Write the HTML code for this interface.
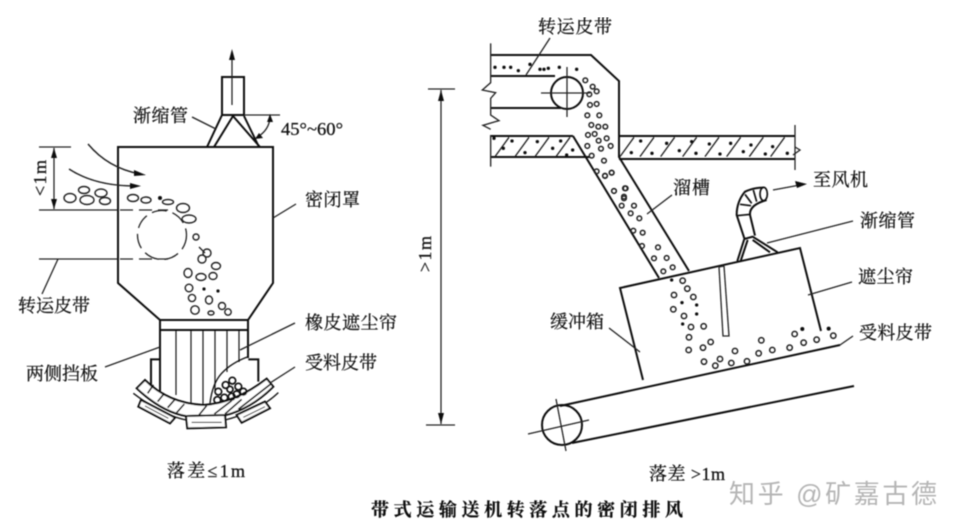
<!DOCTYPE html>
<html><head><meta charset="utf-8"><style>
html,body{margin:0;padding:0;background:#fff}
svg{display:block}
text{font-family:"Liberation Serif","Noto Serif CJK SC",serif;fill:#111;font-size:18px;stroke:#111;stroke-width:.25}
.b{font-family:"Liberation Serif","Noto Serif CJK SC",serif;font-weight:700}
.l{stroke:#111;fill:none;stroke-width:2}
.t{stroke:#222;fill:none;stroke-width:1.3}
.c{stroke:#222;fill:none;stroke-width:1.4}
</style></head><body>
<svg width="961" height="532" viewBox="0 0 961 532" xmlns="http://www.w3.org/2000/svg">
<defs><filter id="f" x="0" y="0" width="100%" height="100%"><feGaussianBlur stdDeviation="0.45"/></filter></defs>
<g filter="url(#f)">
<!-- LEFT: hood -->
<path class="l" d="M207 147H273V283L248 320H160L118 283V147H207"/>
<path class="l" d="M160 320V330H248V320M160 330V391M248 330V358" />
<path class="t" d="M176 331V395M191 331V403M203 331V405M215 331V390M227 331V372M239 331V362"/>
<!-- duct and reducer -->
<path class="l" d="M222 115V77H244V115H222"/>
<path class="t" d="M232 105V58M244 115H280"/>
<path d="M232 49l-3 11h6z" fill="#111"/>
<path class="l" d="M207 147L222 115M214 147L233 116L260 147M244 116L259 147M233 116"/>
<path class="t" d="M192 117L216 129"/>
<path class="t" d="M270 116Q270 130 256 138"/>
<path d="M270 114l-3 8h6zM255 139l8-1-4-5z" fill="#111"/>
<!-- belt and dims -->
<path class="t" d="M39 147H71M54 148V209M39 210H118M39 259H118"/>
<path d="M54 148l-3 10h6zM54 209l-3-10h6z" fill="#111"/>
<path class="t" stroke-dasharray="13 6" d="M120 210H168M120 259H168"/>
<circle cx="162" cy="235" r="24.5" class="t" stroke-dasharray="15 6"/>
<path class="t" d="M58 259L42 294"/>
<path class="c" d="M88 144Q108 168 140 174M69 169Q95 186 135 186"/>
<path d="M146 175l-12-5v6zM141 186l-11-3v6z" fill="#111"/>
<g class="c">
<ellipse cx="70" cy="198" rx="6" ry="4.5"/><ellipse cx="84" cy="190" rx="5.5" ry="3.5"/><ellipse cx="87" cy="200" rx="7" ry="4.5"/><ellipse cx="101" cy="193" rx="6" ry="4"/><ellipse cx="105" cy="201" rx="5.5" ry="3.5"/><ellipse cx="133" cy="198" rx="5.5" ry="3.5"/><ellipse cx="146" cy="200" rx="5" ry="3"/><ellipse cx="168" cy="202" rx="5.5" ry="2.5"/><ellipse cx="183" cy="208" rx="6.5" ry="4.5"/><ellipse cx="189" cy="219" rx="7" ry="4"/><circle cx="196" cy="237" r="3"/><circle cx="207" cy="253" r="4"/><circle cx="202" cy="259" r="4"/><ellipse cx="216" cy="266" rx="4.5" ry="3.5"/><ellipse cx="188" cy="273" rx="4" ry="4.5"/><ellipse cx="201" cy="277" rx="5" ry="3.5"/><ellipse cx="213" cy="276" rx="4" ry="3.5"/><circle cx="189" cy="288" r="3.8"/><circle cx="192" cy="298" r="3.6"/><ellipse cx="209" cy="300" rx="3.5" ry="4"/><circle cx="195" cy="310" r="4.2"/><ellipse cx="211" cy="313" rx="3" ry="2"/><circle cx="222" cy="306" r="3.5"/><circle cx="228" cy="312" r="3.2"/>
</g>
<circle cx="160" cy="198" r="2" fill="#111"/><circle cx="204" cy="289" r="1.6" fill="#111"/><circle cx="218" cy="291" r="1.6" fill="#111"/><path class="t" d="M199 247L205 253"/>
<!-- bottom trough, in 3x crop coordinates -->
<g transform="translate(125,340) scale(.3333)" fill="none" stroke="#111">
<path stroke-width="6" d="M78 140V58H105M370 58H400V125"/>
<path stroke-width="4" d="M25 160Q110 225 183 240M300 240Q400 215 460 158"/>
<path stroke-width="6" fill="#fff" d="M60 120L35 145Q110 215 183 228L300 226Q380 205 445 140L425 116Q330 190 235 195Q130 190 60 120Z"/>
<path stroke-width="5" d="M68 160L85 135M98 185L118 160M128 203L150 178M155 218L178 192M222 225L245 197M268 222L320 182M300 222L350 178M340 208L440 130"/>
<path stroke-width="6" fill="#fff" d="M48 180L150 233L135 250L40 200ZM183 228L300 225L303 262L187 265ZM335 225L420 185L435 205L350 248Z"/>
<path stroke-width="3" d="M60 198L130 235M200 247H290M355 232L420 200"/>
<path stroke-width="4" d="M370 50Q320 68 290 100Q262 130 255 190"/>
<g stroke-width="5"><circle cx="302" cy="135" r="10"/><circle cx="322" cy="122" r="10"/><circle cx="340" cy="140" r="10"/><circle cx="355" cy="155" r="10"/><circle cx="280" cy="155" r="10"/><circle cx="315" cy="148" r="9"/><circle cx="335" cy="163" r="10"/><circle cx="298" cy="173" r="10"/><circle cx="320" cy="170" r="10"/><circle cx="277" cy="180" r="10"/></g>
</g>
<path class="t" d="M105 367L160 347M295 323L240 350M295 367L270 383M296 204L273 218"/>
<!-- LEFT labels -->
<text x="133" y="122" textLength="55">渐缩管</text>
<text x="281" y="135" textLength="62" lengthAdjust="spacingAndGlyphs">45°~60°</text>
<text x="305" y="206" textLength="55">密闭罩</text>
<text x="18" y="312" textLength="72">转运皮带</text>
<text x="305" y="329" textLength="92">橡皮遮尘帘</text>
<text x="305" y="369" textLength="72">受料皮带</text>
<text x="26" y="380" textLength="72">两侧挡板</text>
<text x="167" y="477" textLength="78">落差≤1m</text>
<text transform="translate(46,196) rotate(-90)" textLength="36">&lt;1m</text>
<!-- RIGHT -->
<path class="l" d="M491 55H591L619 81V157L689 271M491 76H555M491 108H561M573 136L659 278M491 136H573M491 157H590M619 136H795M619 159H795"/>
<circle cx="567" cy="93" r="16" class="l"/>
<path class="t" d="M541 93H590M567 67V117"/>
<g transform="translate(475,40) scale(.3333)" fill="none" stroke="#222" stroke-width="4">
<path d="M47 10V128L22 150L62 158L47 175V225L72 242L24 256L47 268M47 285V380"/>
</g>
<path class="t" d="M795 125V170"/>
<path class="t" d="M795 147L800 150L793 155"/>
<g transform="translate(470,10) scale(.3333)">
<path class="c" style="stroke-width:4" d="M75 440l42-58M135 440l42-58M195 440l42-58M258 440l42-58M450 440l42-58M510 440l42-58M572 440l42-58M638 440l42-58M705 440l42-58M770 440l42-58M838 440l42-58M902 440l42-58"/>
<g class="c" style="stroke-width:4.5" fill="none">
<circle cx="346" cy="211" r="7"/><circle cx="368" cy="230" r="7"/><circle cx="380" cy="244" r="7"/><circle cx="358" cy="253" r="7"/><circle cx="380" cy="282" r="7"/><circle cx="360" cy="285" r="7"/><circle cx="388" cy="316" r="7"/><circle cx="352" cy="316" r="7"/><circle cx="364" cy="345" r="7"/><circle cx="385" cy="350" r="7"/><circle cx="406" cy="350" r="7"/><circle cx="354" cy="375" r="7"/><circle cx="374" cy="372" r="7"/><circle cx="410" cy="385" r="7"/><circle cx="386" cy="392" r="7"/><circle cx="352" cy="408" r="7"/><circle cx="393" cy="416" r="7"/><circle cx="422" cy="408" r="7"/><circle cx="365" cy="437" r="7"/><circle cx="402" cy="452" r="7"/><circle cx="380" cy="484" r="7"/><circle cx="405" cy="497" r="7"/><circle cx="425" cy="488" r="7"/><circle cx="432" cy="543" r="7"/><circle cx="465" cy="535" r="7"/><circle cx="462" cy="560" r="7"/>
</g>
<g fill="#111">
<circle cx="75" cy="172" r="5"/><circle cx="102" cy="172" r="5"/><circle cx="122" cy="172" r="5"/><circle cx="145" cy="182" r="5"/><circle cx="180" cy="163" r="5"/><circle cx="210" cy="178" r="5"/><circle cx="222" cy="178" r="5"/><circle cx="235" cy="175" r="5"/><circle cx="268" cy="172" r="5"/><circle cx="320" cy="178" r="5"/>
<circle cx="72" cy="385" r="5"/><circle cx="126" cy="393" r="5"/><circle cx="202" cy="395" r="5"/><circle cx="272" cy="393" r="5"/><circle cx="100" cy="415" r="5"/><circle cx="165" cy="428" r="5"/><circle cx="248" cy="415" r="5"/><circle cx="290" cy="435" r="5"/><circle cx="308" cy="420" r="5"/><circle cx="512" cy="393" r="5"/><circle cx="590" cy="400" r="5"/><circle cx="665" cy="395" r="5"/><circle cx="718" cy="402" r="5"/><circle cx="782" cy="400" r="5"/><circle cx="843" cy="405" r="5"/><circle cx="908" cy="410" r="5"/><circle cx="484" cy="428" r="5"/><circle cx="546" cy="430" r="5"/><circle cx="628" cy="422" r="5"/><circle cx="678" cy="430" r="5"/><circle cx="750" cy="432" r="5"/><circle cx="820" cy="425" r="5"/><circle cx="886" cy="432" r="5"/><circle cx="952" cy="430" r="5"/>
</g>
</g>
<g transform="translate(600,170) scale(.3333)">
<g class="c" style="stroke-width:4.5" fill="none">
<circle cx="15" cy="18" r="7"/><circle cx="35" cy="8" r="7"/><circle cx="42" cy="63" r="7"/><circle cx="77" cy="55" r="7"/><circle cx="72" cy="85" r="7"/><circle cx="65" cy="107" r="7"/><circle cx="102" cy="107" r="7"/><circle cx="92" cy="130" r="7"/><circle cx="118" cy="145" r="7"/><circle cx="100" cy="182" r="7"/><circle cx="128" cy="188" r="7"/><circle cx="126" cy="228" r="7"/><circle cx="174" cy="232" r="7"/><circle cx="162" cy="265" r="7"/><circle cx="200" cy="264" r="7"/><circle cx="190" cy="304" r="7"/><circle cx="218" cy="292" r="7"/><circle cx="248" cy="332" r="8"/><circle cx="262" cy="356" r="8"/><circle cx="222" cy="375" r="8"/><circle cx="280" cy="381" r="8"/><circle cx="220" cy="418" r="8"/><circle cx="252" cy="438" r="8"/><circle cx="273" cy="471" r="8"/><circle cx="311" cy="469" r="8"/><circle cx="267" cy="502" r="8"/><circle cx="266" cy="540" r="8"/><circle cx="309" cy="533" r="8"/><circle cx="332" cy="516" r="8"/><circle cx="405" cy="543" r="8"/><circle cx="312" cy="575" r="8"/><circle cx="360" cy="567" r="8"/><circle cx="346" cy="587" r="8"/><circle cx="394" cy="579" r="8"/><circle cx="441" cy="574" r="8"/><circle cx="476" cy="550" r="8"/><circle cx="517" cy="540" r="8"/><circle cx="484" cy="511" r="8"/><circle cx="569" cy="533" r="8"/><circle cx="584" cy="492" r="8"/><circle cx="611" cy="518" r="8"/><circle cx="650" cy="509" r="8"/><circle cx="700" cy="497" r="8"/>
</g>
<g fill="#111"><circle cx="215" cy="330" r="5"/><circle cx="246" cy="398" r="5"/><circle cx="290" cy="405" r="5"/><circle cx="290" cy="432" r="5"/><circle cx="248" cy="462" r="5"/><circle cx="607" cy="477" r="6"/><circle cx="686" cy="476" r="6"/></g>
</g>
<!-- box -->
<path class="l" d="M643 380L620 288L800 248L821 331"/>
<path class="t" d="M719 267L724 266L729 336H723Z" stroke-width="1.6"/>
<!-- belt -->
<path class="l" d="M560 406L840 345M572 443L854 386"/>
<circle cx="562" cy="425" r="20" class="l"/>
<path class="t" d="M528 434L589 420M556 399L566 451M840 345L853 336"/>
<!-- reducer & elbow, 3x crop coordinates -->
<g transform="translate(725,175) scale(.3333)" fill="none" stroke="#111">
<path stroke-width="6" d="M37 258L58 192L83 185L158 232M47 258L68 195M83 195L135 232"/>
<path stroke-width="6" d="M58 190L35 120Q35 80 60 50Q85 38 115 38M90 182L75 120Q72 90 125 75"/>
<ellipse cx="116" cy="57" rx="11" ry="20" stroke-width="5"/>
<path stroke-width="5" d="M35 122L78 118M45 88L78 92M60 58L80 85M85 45L95 80"/>
</g>
<path class="t" d="M773 190L800 185M767 243L853 221M808 295L852 282M672 195L647 214M609 328L640 352M550 38L526 75"/>
<path d="M807 184l-12-3 2 7z" fill="#111"/>
<!-- dim -->
<path class="t" d="M428 89H455M426 425H455M441 90V424"/>
<path d="M441 90l-3 11h6zM441 424l-3-11h6z" fill="#111"/>
<!-- RIGHT labels -->
<text x="538" y="33" textLength="74">转运皮带</text>
<text x="673" y="194" textLength="37">溜槽</text>
<text x="813" y="186" textLength="55">至风机</text>
<text x="860" y="227" textLength="55">渐缩管</text>
<text x="858" y="283" textLength="55">遮尘帘</text>
<text x="859" y="339" textLength="73">受料皮带</text>
<text x="550" y="328" textLength="54">缓冲箱</text>
<text x="649" y="480" textLength="76">落差 &gt;1m</text>
<text transform="translate(431,272) rotate(-90)" textLength="36">&gt;1m</text>
<text class="b" x="371" y="516" textLength="312">带式运输送机转落点的密闭排风</text>
<text x="729" y="503" textLength="208" lengthAdjust="spacing" style="font-family:'Liberation Sans','Noto Sans CJK SC',sans-serif;font-size:26px;fill:#b5b5b5;stroke:none">知乎 @矿嘉古德</text>
</g>
</svg>
</body></html>
